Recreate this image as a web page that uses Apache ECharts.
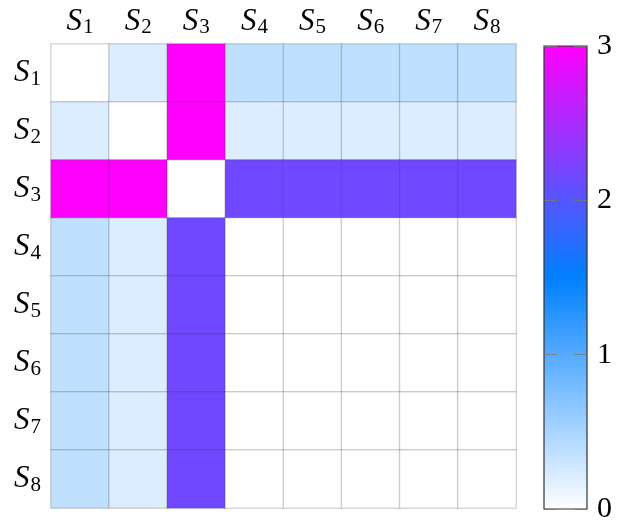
<!DOCTYPE html>
<html>
<head>
<meta charset="utf-8">
<script src="https://cdn.jsdelivr.net/npm/echarts@6/dist/echarts.min.js"></script>
<style>
  html, body { margin: 0; padding: 0; background: #fff; }
  #main { width: 624px; height: 529px; }
</style>
</head>
<body>
<div id="main"></div>
<script>
var labels = ['1', '2', '3', '4', '5', '6', '7', '8'];
// rows S1..S8, columns S1..S8
var row1 = [0, 0.21, 3, 0.37, 0.37, 0.37, 0.37, 0.37];
var row2 = [0.21, 0, 3, 0.21, 0.21, 0.21, 0.21, 0.21];
var row3 = [3, 3, 0, 2.16, 2.16, 2.16, 2.16, 2.16];
var row4 = [0.37, 0.21, 2.16, 0, 0, 0, 0, 0];
var row5 = [0.37, 0.21, 2.16, 0, 0, 0, 0, 0];
var row6 = [0.37, 0.21, 2.16, 0, 0, 0, 0, 0];
var row7 = [0.37, 0.21, 2.16, 0, 0, 0, 0, 0];
var row8 = [0.37, 0.21, 2.16, 0, 0, 0, 0, 0];
var barTicks = [0, 1, 2, 3];
var colors = ['#ffffff', '#0080ff', '#ff00ff'];

var rows = [row1, row2, row3, row4, row5, row6, row7, row8];
var data = [];
rows.forEach(function (r, i) {
  r.forEach(function (v, j) { data.push([j, i, v]); });
});

var serif = 'Liberation Serif';
var rich = {
  s: { fontFamily: serif, fontStyle: 'italic', fontSize: 31, color: '#000' },
  n: { fontFamily: serif, fontSize: 21, color: '#000', padding: [12, 0, 0, 1] }
};
function fmt(v) { return '{s|S}{n|' + v + '}'; }

// colour bar fill, bottom (0) to top (3)
var barFill = new echarts.graphic.LinearGradient(0, 1, 0, 0, [
  { offset: 0, color: colors[0] },
  { offset: 0.5, color: colors[1] },
  { offset: 1, color: colors[2] }
]);

var myChart = echarts.init(document.getElementById('main'));
var option = {
  animation: false,
  grid: [
    { left: 51, top: 44, width: 465, height: 464 },
    { left: 544, top: 46, width: 43, height: 463, show: true,
      borderColor: '#333', borderWidth: 1.2, backgroundColor: barFill }
  ],
  xAxis: [
    { type: 'category', data: labels, position: 'top', gridIndex: 0,
      axisLine: { show: false }, axisTick: { show: false },
      axisLabel: { formatter: fmt, rich: rich, margin: 6, interval: 0 } },
    { type: 'value', gridIndex: 1, show: false, min: 0, max: 1 }
  ],
  yAxis: [
    { type: 'category', data: labels, inverse: true, gridIndex: 0,
      axisLine: { show: false }, axisTick: { show: false },
      axisLabel: { formatter: fmt, rich: rich, margin: 10, interval: 0 } },
    { type: 'value', gridIndex: 1, min: 0, max: 3, interval: 1, position: 'right',
      axisLine: { show: false }, axisTick: { show: false },
      axisLabel: { fontFamily: serif, fontSize: 30, color: '#000', margin: 10,
        formatter: function (v) { return barTicks.indexOf(v) >= 0 ? String(v) : ''; } },
      splitLine: { show: true, lineStyle: { color: 'rgba(120,120,120,0.8)', width: 1, type: [13, 17] } } }
  ],
  visualMap: {
    type: 'continuous', min: 0, max: 3, show: false,
    inRange: { color: colors },
    seriesIndex: 0
  },
  series: [{
    type: 'heatmap', xAxisIndex: 0, yAxisIndex: 0, data: data,
    itemStyle: { borderColor: 'rgba(60,60,60,0.2)', borderWidth: 1.5 },
    emphasis: { disabled: true }
  }]
};
myChart.setOption(option);
</script>
</body>
</html>
